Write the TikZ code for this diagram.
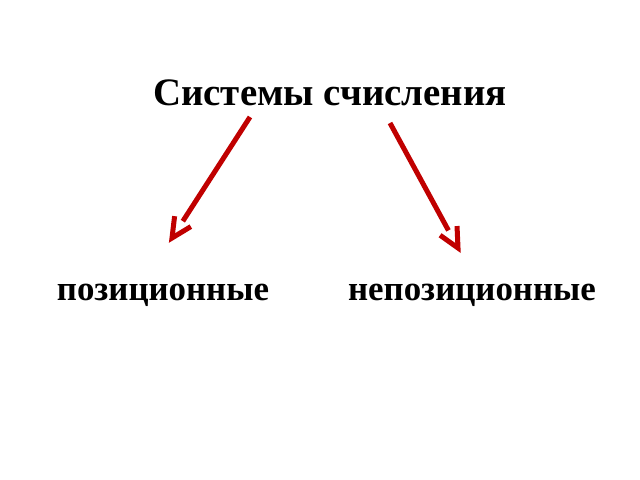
\documentclass[tikz,border=0pt]{standalone}
\usepackage{fontspec}
\setmainfont{Liberation Serif}
\usetikzlibrary{calc}
\definecolor{arrowred}{RGB}{192,0,0}
\tikzset{
  label/.style={font=\bfseries\fontsize{35}{40}\selectfont, inner sep=0pt, anchor=base},
  shaft/.style={draw=arrowred, line width=5bp, line cap=butt, line join=miter},
}
\begin{document}
\begin{tikzpicture}[x=1bp, y=-1bp]
\useasboundingbox[fill=white] (0,0) rectangle (640,480);
\node[label, font=\bfseries\fontsize{39}{44}\selectfont] (title) at (330,106) {Системы счисления};
\node[label] (pos) at (163,300) {позиционные};
\node[label] (nonpos) at (472,300) {непозиционные};
\coordinate (s1) at (250,117);
\coordinate (e1) at (172,238);
\coordinate (s2) at (390,123);
\coordinate (e2) at (458,248);
\draw[shaft] (s1) -- ($(e1)!20bp!(s1)$);
\draw[shaft] ($(e1)!22bp!26:(s1)$) -- (e1) -- ($(e1)!22bp!-26:(s1)$);
\draw[shaft] (s2) -- ($(e2)!20bp!(s2)$);
\draw[shaft] ($(e2)!22bp!26:(s2)$) -- (e2) -- ($(e2)!22bp!-26:(s2)$);
\end{tikzpicture}
\end{document}
